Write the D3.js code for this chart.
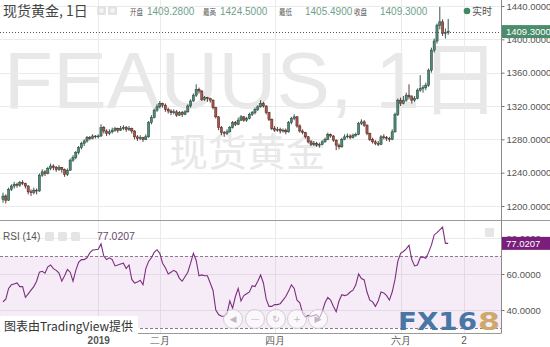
<!DOCTYPE html>
<html><head><meta charset="utf-8">
<script src="https://cdnjs.cloudflare.com/ajax/libs/d3/7.8.5/d3.min.js"></script>
<style>
body{margin:0;background:#fff;}
svg{display:block;font-family:"Liberation Sans","Noto Sans CJK SC",sans-serif;}
</style></head><body>
<svg width="550" height="347"></svg>
<script>
// daily candles [open, high, low, close]
var ohlc = [
 [1208,1216,1204,1212],[1212,1214,1203,1207],[1207,1222,1206,1220],[1220,1226,1218,1224],
 [1224,1229,1221,1226],[1226,1228,1222,1225],[1225,1230,1223,1228],[1228,1231,1225,1227],
 [1227,1228,1221,1224],[1224,1225,1214,1217],[1217,1220,1212,1216],[1216,1222,1214,1219],
 [1219,1221,1214,1218],[1218,1239,1217,1237],[1237,1244,1235,1241],[1241,1243,1236,1239],
 [1239,1247,1238,1245],[1245,1251,1243,1248],[1248,1250,1243,1246],[1246,1248,1241,1244],
 [1244,1249,1242,1246],[1246,1247,1240,1244],[1244,1245,1235,1238],[1238,1245,1236,1243],
 [1243,1257,1242,1255],[1255,1261,1253,1258],[1258,1266,1256,1264],[1264,1272,1262,1270],
 [1270,1277,1268,1275],[1275,1280,1272,1278],[1278,1284,1276,1282],[1282,1284,1279,1281],
 [1281,1286,1280,1284],[1284,1285,1281,1283],[1283,1286,1281,1284],[1284,1298,1283,1294],
 [1294,1296,1287,1290],[1290,1292,1284,1287],[1287,1292,1285,1289],[1289,1294,1287,1291],
 [1291,1295,1289,1293],[1293,1294,1288,1291],[1291,1296,1290,1293],[1293,1297,1291,1294],
 [1294,1296,1289,1292],[1292,1296,1290,1293],[1293,1294,1287,1290],[1290,1291,1280,1283],
 [1283,1285,1278,1281],[1281,1285,1279,1282],[1282,1283,1277,1280],[1280,1286,1279,1283],
 [1283,1302,1282,1300],[1300,1309,1298,1306],[1306,1317,1305,1315],[1315,1322,1313,1319],
 [1319,1326,1317,1323],[1323,1324,1318,1321],[1321,1323,1313,1316],[1316,1318,1311,1314],
 [1314,1316,1309,1312],[1312,1316,1310,1313],[1313,1315,1307,1309],[1309,1314,1308,1312],
 [1312,1314,1307,1310],[1310,1315,1309,1313],[1313,1322,1312,1320],[1320,1328,1318,1326],
 [1326,1335,1325,1333],[1333,1346,1331,1340],[1340,1342,1335,1338],[1338,1339,1326,1328],
 [1328,1332,1326,1330],[1330,1331,1325,1329],[1329,1330,1324,1327],[1327,1328,1316,1318],
 [1318,1319,1305,1307],[1307,1308,1291,1294],[1294,1296,1285,1288],[1288,1290,1283,1287],
 [1287,1292,1285,1289],[1289,1296,1288,1294],[1294,1302,1293,1300],[1300,1302,1296,1298],
 [1298,1306,1297,1303],[1303,1309,1302,1307],[1307,1308,1301,1303],[1303,1307,1301,1305],
 [1305,1312,1304,1310],[1310,1314,1308,1312],[1312,1318,1310,1316],[1316,1321,1314,1319],
 [1319,1327,1318,1323],[1323,1325,1318,1320],[1320,1321,1310,1312],[1312,1313,1302,1304],
 [1304,1305,1291,1293],[1293,1296,1289,1291],[1291,1295,1289,1292],[1292,1294,1287,1290],
 [1290,1293,1288,1291],[1291,1293,1286,1289],[1289,1302,1288,1300],[1300,1307,1298,1305],
 [1305,1310,1303,1307],[1307,1308,1294,1296],[1296,1298,1288,1290],[1290,1292,1286,1288],
 [1288,1289,1281,1283],[1283,1284,1275,1277],[1277,1279,1272,1274],[1274,1278,1272,1275],
 [1275,1277,1271,1273],[1273,1276,1270,1274],[1274,1279,1273,1277],[1277,1282,1276,1280],
 [1280,1288,1279,1286],[1286,1287,1282,1284],[1284,1285,1277,1279],[1279,1280,1267,1273],
 [1273,1275,1268,1271],[1271,1282,1270,1280],[1280,1286,1279,1283],[1283,1287,1281,1284],
 [1284,1286,1280,1282],[1282,1287,1281,1285],[1285,1288,1283,1286],[1286,1301,1285,1299],
 [1299,1304,1297,1301],[1301,1303,1295,1297],[1297,1298,1285,1287],[1287,1288,1278,1280],
 [1280,1282,1275,1277],[1277,1279,1273,1275],[1275,1278,1272,1274],[1274,1285,1273,1283],
 [1283,1286,1280,1282],[1282,1284,1278,1281],[1281,1283,1277,1280],[1280,1292,1279,1289],
 [1289,1312,1288,1310],[1310,1329,1308,1327],[1327,1330,1320,1323],[1323,1332,1322,1327],
 [1327,1336,1325,1333],[1333,1346,1328,1331],[1331,1333,1323,1327],[1327,1332,1325,1329],
 [1329,1341,1328,1339],[1339,1357,1337,1341],[1341,1345,1336,1342],[1342,1348,1339,1345],
 [1345,1365,1343,1363],[1363,1390,1360,1387],[1387,1401,1384,1398],[1398,1419,1395,1417],
 [1417,1439,1412,1421],[1421,1424,1404,1407],[1407,1413,1401,1408],[1409.28,1424.5,1405.49,1409.3]
];
var rsi = [
 44.6,46,52,54,54.5,55,53,53,47,49,51,53,56,61,61.5,60.5,64,65,63,62,
 60.5,56,59,62.5,61,56,62,66.5,68,68,69,71.7,73.3,73.5,73.7,76.7,70,68,69,68,
 64.5,65,65.5,66,63,65,57,55,55.5,56.5,54,63,67,69,72,73.5,71.5,66,63.5,60,
 61,62,61,57.6,56,58.5,61,66,71.5,67.5,59,59.5,59,59,55,51,40,37.5,36.5,36.5,
 38,45,41,47.5,52,45,48,49,50,53.5,53,56,59.4,55,46,42,42,43,43,43.5,
 45.5,47.5,50.5,54,52,45.5,44,38.3,36,37,36.5,37,37.4,35.6,39,44,47,45.5,42,39,
 45,48.5,48,48.5,50,51,54,60,57.5,56.7,50,45.5,44.5,42,45,50,49.5,48,45.5,50,
 57,67,71.5,72.5,74,76,68,64.5,65,69,69.5,68.7,72,76,81.7,83,84.5,86,77,77.0207
];
var priceTicks = [1200,1240,1280,1320,1360,1400,1440];
var rsiTicks = [40,60,80];
var rsiBands = [30,70];
var timeTicks = [34,56,97,142,164.5];
var timeLabels = ["2019","二月","四月","六月","2"];
var headLabels = ["开盘","最高","最低","收盘"];
var headValues = ["1409.2800","1424.5000","1405.4900","1409.3000"];
var lastPrice = 1409.3, lastRsi = 77.0207;

var svg = d3.select("svg");
var axisX = 501, mainBottom = 220.5, rsiBottom = 333.5;

var x = d3.scaleLinear().domain([0, 159]).range([3, 3 + 159 * 2.8]);
var y = d3.scaleLinear().domain([1200, 1440]).range([206, 6]);
var yr = d3.scaleLinear().domain([40, 80]).range([310, 238]);

// watermarks
svg.append("text").attr("x", 4).attr("y", 108)
  .style("font-size", "80px").attr("fill", "#e8e8e8").attr("textLength", 496)
  .text("FEAUUS, 1日");
svg.append("text").attr("x", 169).attr("y", 166)
  .style("font-family", "'Noto Sans CJK SC'").style("font-size", "39px").attr("fill", "#e8e8e8")
  .text("现货黄金");

// grid
var grid = svg.append("g").attr("stroke", "#ebebeb").attr("shape-rendering", "crispEdges");
grid.selectAll(".vg").data(timeTicks).enter().append("line")
  .attr("x1", function(d){ return Math.round(x(d)) + .5; }).attr("x2", function(d){ return Math.round(x(d)) + .5; })
  .attr("y1", 0).attr("y2", rsiBottom);
grid.selectAll(".hg").data(priceTicks).enter().append("line")
  .attr("x1", 0).attr("x2", axisX)
  .attr("y1", function(d){ return Math.round(y(d)) + .5; }).attr("y2", function(d){ return Math.round(y(d)) + .5; });
grid.selectAll(".hr").data(rsiTicks).enter().append("line")
  .attr("x1", 0).attr("x2", axisX)
  .attr("y1", function(d){ return Math.round(yr(d)) + .5; }).attr("y2", function(d){ return Math.round(yr(d)) + .5; });

// rsi band
svg.append("rect").attr("x", 0).attr("width", axisX)
  .attr("y", yr(rsiBands[1])).attr("height", yr(rsiBands[0]) - yr(rsiBands[1]))
  .attr("fill", "#9c27b0").attr("fill-opacity", 0.09);
svg.selectAll(".band").data(rsiBands).enter().append("line")
  .attr("x1", 0).attr("x2", axisX)
  .attr("y1", function(d){ return Math.round(yr(d)) + .5; }).attr("y2", function(d){ return Math.round(yr(d)) + .5; })
  .attr("stroke", "#8c7a8c").attr("stroke-dasharray", "3,2");

// candles
var candle = svg.append("g").selectAll("g").data(ohlc).enter().append("g");
candle.append("line")
  .attr("x1", function(d, i){ return x(i); }).attr("x2", function(d, i){ return x(i); })
  .attr("y1", function(d){ return y(d[1]); }).attr("y2", function(d){ return y(d[2]); })
  .attr("stroke", function(d){ return d[3] >= d[0] ? "#24433a" : "#4a2520"; }).attr("stroke-width", 0.9);
candle.append("rect")
  .attr("x", function(d, i){ return x(i) - 1.1; }).attr("width", 2.2)
  .attr("y", function(d){ return y(Math.max(d[0], d[3])); })
  .attr("height", function(d){ return Math.max(0.8, Math.abs(y(d[0]) - y(d[3]))); })
  .attr("fill", function(d){ return d[3] >= d[0] ? "#4f8a72" : "#a5564a"; })
  .attr("stroke", function(d){ return d[3] >= d[0] ? "#24433a" : "#4a2520"; }).attr("stroke-width", 0.5);

// rsi line
svg.append("path").datum(rsi)
  .attr("d", d3.line().x(function(d, i){ return x(i); }).y(function(d){ return yr(d); }))
  .attr("fill", "none").attr("stroke", "#7b2f7d").attr("stroke-width", 1.1);

// last price line
svg.append("line").attr("x1", 0).attr("x2", axisX)
  .attr("y1", Math.round(y(lastPrice)) + .5).attr("y2", Math.round(y(lastPrice)) + .5)
  .attr("stroke", "#555").attr("stroke-dasharray", "1,2");

// panel borders
svg.append("rect").attr("x", axisX).attr("y", 0).attr("width", 49).attr("height", 347).attr("fill", "#fff");
svg.append("line").attr("x1", 0).attr("x2", 550).attr("y1", mainBottom).attr("y2", mainBottom).attr("stroke", "#9a9a9a");
svg.append("line").attr("x1", 0).attr("x2", axisX).attr("y1", rsiBottom).attr("y2", rsiBottom).attr("stroke", "#9a9a9a");
svg.append("line").attr("x1", axisX + .5).attr("x2", axisX + .5).attr("y1", 0).attr("y2", rsiBottom).attr("stroke", "#8a8a8a");

// right axes
var pAxis = svg.append("g").attr("transform", "translate(" + (axisX + .5) + ",0)")
  .call(d3.axisRight(y).tickValues(priceTicks).tickFormat(d3.format(".4f")).tickSize(3).tickPadding(2).tickSizeOuter(0));
var rAxis = svg.append("g").attr("transform", "translate(" + (axisX + .5) + ",0)")
  .call(d3.axisRight(yr).tickValues(rsiTicks).tickFormat(d3.format(".4f")).tickSize(3).tickPadding(2).tickSizeOuter(0));
[pAxis, rAxis].forEach(function(a){
  a.select(".domain").remove();
  a.selectAll("line").attr("stroke", "#777");
  a.selectAll("text").attr("fill", "#555").style("font-size", "9.5px").style("font-family", "'Liberation Sans'");
});

// value labels on axis
function tag(v, sc, col, txt){
  var g = svg.append("g").attr("transform", "translate(" + (axisX + 1) + "," + sc(v) + ")");
  g.append("rect").attr("x", 0).attr("y", -6.5).attr("width", 49).attr("height", 13).attr("fill", col);
  g.append("text").attr("x", 4).attr("dy", "0.35em").attr("fill", "#fff").style("font-size", "9.5px").text(txt);
}
tag(lastPrice, y, "#4b8c6c", d3.format(".4f")(lastPrice));
tag(lastRsi, yr, "#7a1e7c", d3.format(".4f")(lastRsi));

// time axis
var tAxis = svg.append("g").attr("transform", "translate(0," + rsiBottom + ")")
  .call(d3.axisBottom(x).tickValues(timeTicks).tickFormat(function(d, i){ return timeLabels[i]; }).tickSize(0).tickPadding(3));
tAxis.select(".domain").remove();
tAxis.selectAll("text").attr("fill", "#555").style("font-size", "10px")
  .style("font-weight", function(d, i){ return i === 0 ? "bold" : "normal"; });

// header
svg.append("text").attr("x", 3).attr("y", 16).attr("fill", "#444")
  .style("font-size", "14px").style("font-family", "'Noto Sans CJK SC'").text("现货黄金, 1日");
[97, 108].forEach(function(px){
  svg.append("rect").attr("x", px).attr("y", 6).attr("width", 9).attr("height", 9).attr("rx", 1.5).attr("fill", "#e2e2e2");
  svg.append("rect").attr("x", px + 2.5).attr("y", 8.5).attr("width", 4).attr("height", 4).attr("fill", "#f5f5f5");
});
var labX = [130, 203, 279, 354], valX = [147, 220, 305, 380];
headLabels.forEach(function(l, i){
  svg.append("text").attr("x", labX[i]).attr("y", 15).attr("fill", "#555")
    .style("font-size", "8px").style("font-family", "'Noto Sans CJK SC'")
    .attr("textLength", 13).attr("lengthAdjust", "spacingAndGlyphs").text(l);
  svg.append("text").attr("x", valX[i]).attr("y", 15).attr("fill", "#6f9f8b")
    .style("font-size", "10px").text(headValues[i]);
});
svg.append("circle").attr("cx", 467).attr("cy", 11).attr("r", 3.3).attr("fill", "#3c8a62");
svg.append("text").attr("x", 472).attr("y", 15).attr("fill", "#555")
  .style("font-size", "10px").style("font-family", "'Noto Sans CJK SC'").text("实时");

// rsi header
svg.append("text").attr("x", 3).attr("y", 240).attr("fill", "#555").style("font-size", "10px").text("RSI (14)");
[45, 58, 71].forEach(function(px){
  svg.append("rect").attr("x", px).attr("y", 232).attr("width", 9).attr("height", 9).attr("rx", 1.5).attr("fill", "#e4e4e4");
});
svg.append("text").attr("x", 97).attr("y", 240).attr("fill", "#6a4a6c").style("font-size", "10.5px").text(d3.format(".4f")(lastRsi));
svg.append("rect").attr("x", 485).attr("y", 228).attr("width", 9).attr("height", 9).attr("fill", "#e6e6e6");

// navigation buttons
var nav = [233, 255, 276, 297, 318], navSym = ["◀", "—", "↻", "+", "▶"];
nav.forEach(function(px, i){
  svg.append("circle").attr("cx", px).attr("cy", 319).attr("r", 9.5)
    .attr("fill", "#fff").attr("fill-opacity", 0.6).attr("stroke", "#cfcfcf");
  svg.append("text").attr("x", px).attr("y", 319).attr("dy", "0.35em").attr("text-anchor", "middle")
    .attr("fill", "#bbb").style("font-size", "9px").style("font-family", "'DejaVu Sans'").text(navSym[i]);
});

// credit box
svg.append("rect").attr("x", 0).attr("y", 316).attr("width", 138).attr("height", 20).attr("fill", "#fff").attr("rx", 2);
svg.append("text").attr("x", 4).attr("y", 331).attr("fill", "#333")
  .style("font-size", "12px").style("font-family", "'Noto Sans CJK SC'").text("图表由TradingView提供");

// FX168 logo
svg.append("text").attr("x", 398).attr("y", 330).attr("fill", "#4877a6")
  .style("font-size", "24px").style("font-weight", "bold").style("font-family", "'DejaVu Sans'")
  .attr("textLength", 79).attr("lengthAdjust", "spacingAndGlyphs").text("FX16");
svg.append("text").attr("x", 478).attr("y", 330).attr("fill", "#cfa86c")
  .style("font-size", "24px").style("font-weight", "bold").style("font-family", "'DejaVu Sans'")
  .attr("textLength", 22).attr("lengthAdjust", "spacingAndGlyphs").text("8");
</script>
</body></html>
